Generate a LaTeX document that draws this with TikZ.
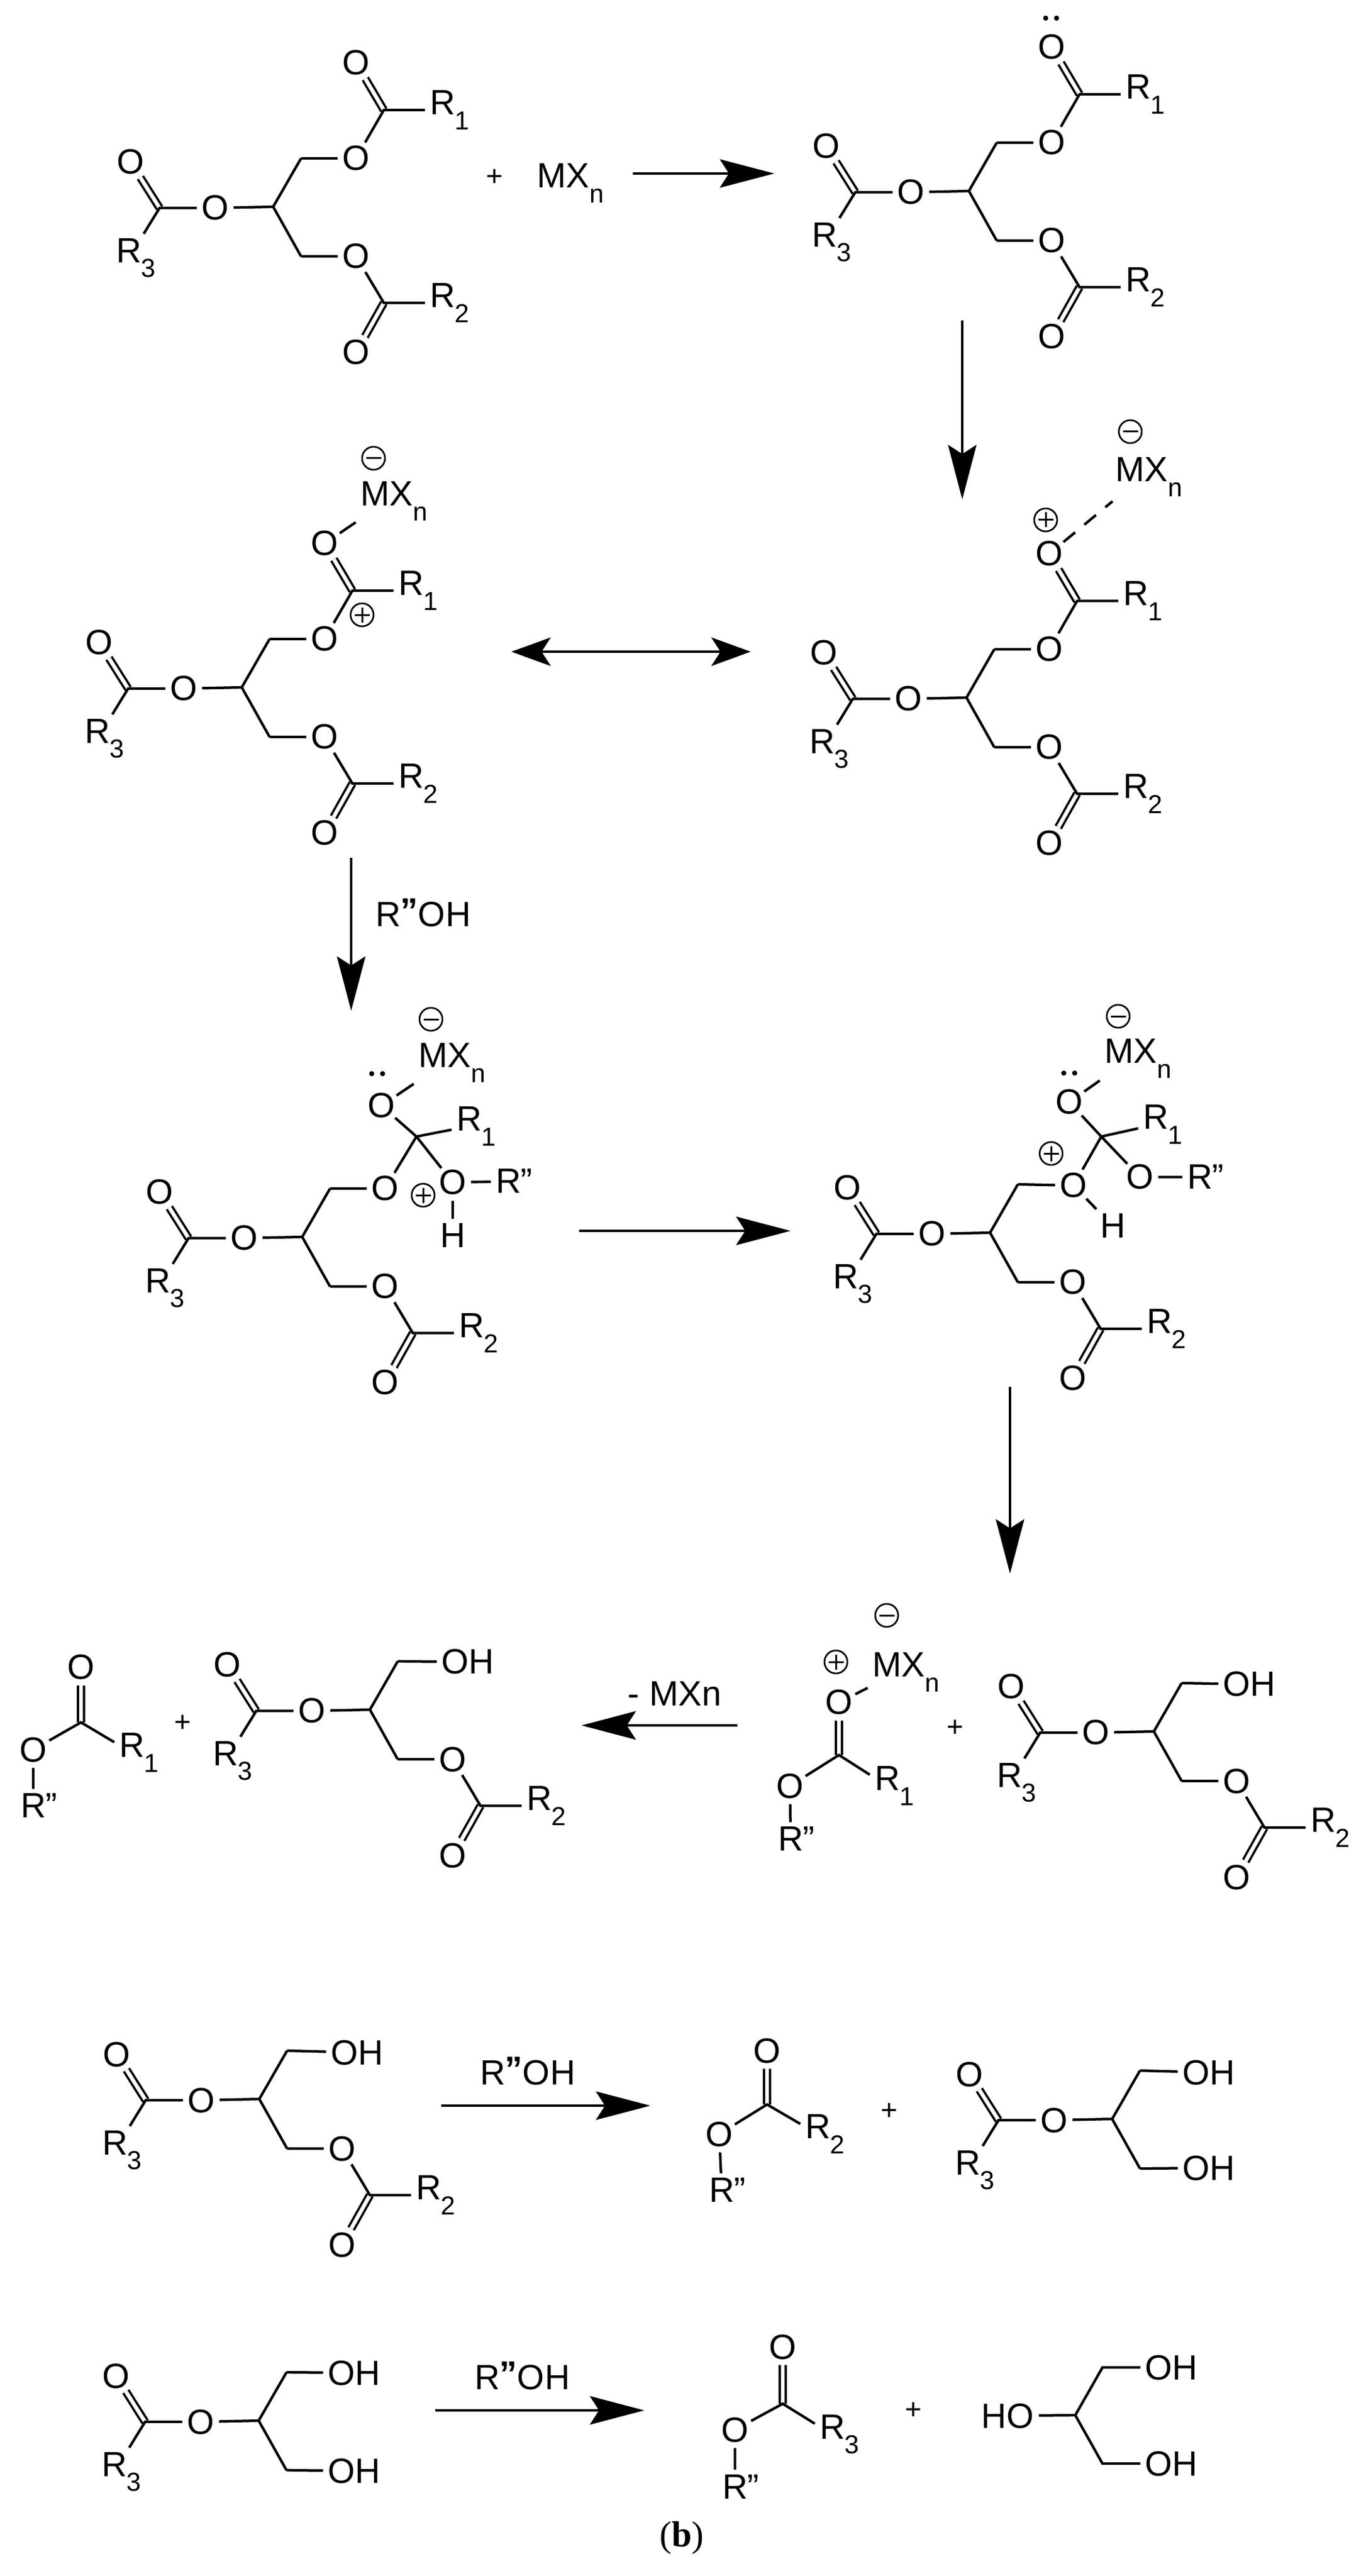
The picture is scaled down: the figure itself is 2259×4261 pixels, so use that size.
\documentclass[tikz,border=0pt]{standalone}
\usepackage{fontspec}
\setmainfont{Liberation Sans}
\newfontfamily\capserif{Liberation Serif}
\usetikzlibrary{arrows.meta}
\newcommand{\mainfs}{\fontsize{11.6}{13}\selectfont}
\newcommand{\subfs}{\fontsize{8.6}{10}\selectfont}
\newcommand{\Rs}[1]{R\rlap{\raisebox{-0.42em}{\subfs #1}}}
\newcommand{\Rpp}{R\rlap{"}}
\newcommand{\MXn}{MX\rlap{\raisebox{-0.42em}{\subfs n}}}
\newcommand{\ROH}{R\raisebox{.1em}{\textbf{"}}OH}
\tikzset{
 x=0.2pt,y=-0.2pt,
 bond/.style={line width=.85pt},
 dbl/.style={double,double distance=1.25pt,line width=.75pt},
 dsh/.style={line width=.85pt,dash pattern=on 5pt off 4pt},
 atom/.style={circle,inner sep=0pt,outer sep=0pt,font=\mainfs},
 lab/.style={rectangle,inner sep=1.6pt,outer sep=0pt,font=\mainfs},
 plain/.style={font=\mainfs,inner sep=0pt},
 plussign/.style={font=\fontsize{9.5}{11}\selectfont,inner sep=0pt},
 chg/.style={circle,draw,line width=.55pt,minimum size=7.6pt,inner sep=0pt},
 arr/.style={line width=.85pt,-{Stealth[length=18pt,width=9.4pt,inset=3pt]}},
 darr/.style={line width=.85pt,{Stealth[length=13pt,width=9.4pt,inset=3pt]}-{Stealth[length=13pt,width=9.4pt,inset=3pt]}},
}
% common core: centre carbon, secondary ester, two CH2
\newcommand{\core}[3]{\begin{scope}[shift={(#2,#3)}]
 \coordinate (#1c) at (0,0);
 \node[atom] (#1ol) at (-96,2) {O};
 \coordinate (#1cc) at (-188,2);
 \node[atom] (#1oup) at (-236,-74) {O};
 \node[lab] (#1r3) at (-239,85) {\Rs{3}};
 \coordinate (#1cu) at (46,-80);
 \coordinate (#1cl) at (46,82);
 \draw[dbl] (#1oup) -- (#1cc);
 \draw[bond] (#1r3) -- (#1cc) -- (#1ol) (#1ol) -- (#1c) (#1cu) -- (#1c) -- (#1cl);
\end{scope}}
\newcommand{\lowest}[3]{\begin{scope}[shift={(#2,#3)}]
 \node[atom] (#1o2) at (137,82) {O};
 \coordinate (#1c2) at (183,159);
 \node[lab] (#1r2) at (280,159) {\Rs{2}};
 \node[atom] (#1ob) at (137,241) {O};
 \draw[dbl] (#1ob) -- (#1c2);
 \draw[bond] (#1cl) -- (#1o2) -- (#1c2) -- (#1r2);
\end{scope}}
\newcommand{\uppest}[3]{\begin{scope}[shift={(#2,#3)}]
 \node[atom] (#1o1) at (137,-80) {O};
 \coordinate (#1c1) at (183,-160);
 \node[lab] (#1r1) at (280,-160) {\Rs{1}};
 \node[atom] (#1ot) at (137,-238) {O};
 \draw[dbl] (#1ot) -- (#1c1);
 \draw[bond] (#1cu) -- (#1o1) -- (#1c1) -- (#1r1);
\end{scope}}
\newcommand{\chgplus}[3]{\node[chg] (#1) at (#2,#3) {};
 \draw[line width=.6pt] ([xshift=-2.5pt]#1.center) -- ([xshift=2.5pt]#1.center) ([yshift=-2.5pt]#1.center) -- ([yshift=2.5pt]#1.center);}
\newcommand{\chgminus}[3]{\node[chg] (#1) at (#2,#3) {};
 \draw[line width=.6pt] ([xshift=-2.5pt]#1.center) -- ([xshift=2.5pt]#1.center);}
\newcommand{\lpair}[2]{\fill (#1-9,#2) circle (.85pt) (#1+9,#2) circle (.85pt);}
\begin{document}
\begin{tikzpicture}
\useasboundingbox (0,0) rectangle (2259,4261);
\fill[white] (0,0) rectangle (2259,4261);

% ---- row 1
\core{a}{452}{342}\lowest{a}{452}{342}\uppest{a}{452}{342}
\node[plussign] (plusA) at (818,294) {+};
\node[plain,anchor=center] (mxA) at (932,303) {\MXn};
\coordinate (a1s) at (1047,287); \coordinate (a1e) at (1281,287);
\draw[arr] (a1s) -- (a1e);
\core{b}{1603}{316}\lowest{b}{1603}{316}\uppest{b}{1603}{316}
\lpair{1739}{30}
\coordinate (a2s) at (1592,530); \coordinate (a2e) at (1592,826);
\draw[arr] (a2s) -- (a2e);

% ---- row 2
\core{c}{1599}{1154}\lowest{c}{1599}{1154}\uppest{c}{1599}{1154}
\node[lab] (cmx) at (1889,789) {\MXn};
\draw[dsh] (cot) -- (cmx);
\chgminus{cm}{1870}{714}
\chgplus{cp}{1730}{860}

\core{d}{400}{1137}\lowest{d}{400}{1137}\uppest{d}{400}{1137}
\node[lab] (dmx) at (640,829) {\MXn};
\draw[bond] (dot) -- (dmx);
\chgminus{dm}{618}{758}
\chgplus{dp}{599}{1017}
\coordinate (a3s) at (846,1078); \coordinate (a3e) at (1242,1078);
\draw[darr] (a3s) -- (a3e);

\coordinate (a4s) at (581,1419); \coordinate (a4e) at (581,1672);
\draw[arr] (a4s) -- (a4e);
\node[plain] (rohA) at (700,1510) {\ROH};

% ---- row 3
\core{e}{500}{2046}\lowest{e}{500}{2046}
\node[atom] (eo1) at (637,1966) {O};
\coordinate (ec1) at (689,1880);
\node[atom] (eot) at (631,1829) {O};
\node[lab] (er1) at (776,1863) {\Rs{1}};
\node[atom] (eoh) at (749,1956) {O};
\node[lab] (erp) at (841,1954) {\Rpp};
\node[lab] (eh) at (749,2044) {H};
\node[lab] (emx) at (736,1758) {\MXn};
\draw[bond] (ecu) -- (eo1) -- (ec1) -- (er1) (ec1) -- (eot) -- (emx) (ec1) -- (eoh) -- (erp) (eoh) -- (eh);
\lpair{624}{1776}
\chgminus{em}{713}{1686}
\chgplus{ep}{700}{1977}
\coordinate (a5s) at (958,2036); \coordinate (a5e) at (1308,2036);
\draw[arr] (a5s) -- (a5e);

\core{f}{1638}{2039}\lowest{f}{1638}{2039}
\node[atom] (fo1) at (1776,1961) {O};
\coordinate (fc1) at (1822,1880);
\node[atom] (fot) at (1769,1823) {O};
\node[lab] (fr1) at (1912,1860) {\Rs{1}};
\node[atom] (foh) at (1886,1947) {O};
\node[lab] (frp) at (1985,1947) {\Rpp};
\node[lab] (fh) at (1841,2028) {H};
\node[lab] (fmx) at (1871,1751) {\MXn};
\draw[bond] (fcu) -- (fo1) -- (fc1) -- (fr1) (fc1) -- (fot) -- (fmx) (fc1) -- (foh) -- (frp) (fo1) -- (fh);
\lpair{1769}{1775}
\chgminus{fm}{1850}{1681}
\chgplus{fp}{1739}{1908}
\coordinate (a6s) at (1671,2294); \coordinate (a6e) at (1671,2603);
\draw[arr] (a6s) -- (a6e);

% ---- row 4
\node[atom] (gou) at (134,2758) {O};
\coordinate (gc) at (134,2849);
\node[atom] (go) at (55,2894) {O};
\node[lab] (gr1) at (218,2899) {\Rs{1}};
\node[lab] (grp) at (55,2987) {\Rpp};
\draw[dbl] (gou) -- (gc);
\draw[bond] (grp) -- (go) -- (gc) -- (gr1);
\node[plussign] (plusG) at (302,2851) {+};

\core{h}{612}{2828}\lowest{h}{612}{2828}
\node[lab] (hoh) at (774,2749) {OH};
\draw[bond] (hcu) -- (hoh);

\coordinate (a7s) at (1220,2854); \coordinate (a7e) at (962,2854);
\draw[arr] (a7s) -- (a7e);
\node[plain] (mxnB) at (1116,2802) {- MXn};

\node[atom] (iou) at (1388,2816) {O};
\coordinate (ic) at (1388,2903);
\node[atom] (io) at (1307,2954) {O};
\node[lab] (ir1) at (1468,2954) {\Rs{1}};
\node[lab] (irp) at (1308,3042) {\Rpp};
\node[lab] (imx) at (1487,2766) {\MXn};
\draw[dbl] (iou) -- (ic);
\draw[bond] (irp) -- (io) -- (ic) -- (ir1) (iou) -- (imx);
\chgminus{im}{1467}{2672}
\chgplus{ip}{1383}{2749}
\node[plussign] (plusI) at (1580,2859) {+};

\core{j}{1909}{2864}\lowest{j}{1909}{2864}
\node[lab] (joh) at (2067,2786) {OH};
\draw[bond] (jcu) -- (joh);

% ---- row 5
\core{k}{429}{3472}\lowest{k}{429}{3472}
\node[lab] (koh) at (591,3395) {OH};
\draw[bond] (kcu) -- (koh);
\coordinate (a8s) at (730,3483); \coordinate (a8e) at (1076,3483);
\draw[arr] (a8s) -- (a8e);
\node[plain] (rohB) at (873,3426) {\ROH};

\node[atom] (lou) at (1269,3392) {O};
\coordinate (lc) at (1269,3481);
\node[atom] (lo) at (1190,3530) {O};
\node[lab] (lr2) at (1353,3530) {\Rs{2}};
\node[lab] (lrp) at (1194,3623) {\Rpp};
\draw[dbl] (lou) -- (lc);
\draw[bond] (lrp) -- (lo) -- (lc) -- (lr2);
\node[plussign] (plusL) at (1471,3493) {+};

\core{m}{1840}{3505}
\node[lab] (mohu) at (2000,3428) {OH};
\node[lab] (mohl) at (2000,3586) {OH};
\draw[bond] (mcu) -- (mohu) (mcl) -- (mohl);

% ---- row 6
\core{n}{428}{4004}
\node[lab] (nohu) at (586,3925) {OH};
\node[lab] (nohl) at (586,4087) {OH};
\draw[bond] (ncu) -- (nohu) (ncl) -- (nohl);
\coordinate (a9s) at (720,3987); \coordinate (a9e) at (1066,3987);
\draw[arr] (a9s) -- (a9e);
\node[plain] (rohC) at (864,3930) {\ROH};

\node[atom] (pou) at (1295,3882) {O};
\coordinate (pc) at (1295,3976);
\node[atom] (po) at (1216,4019) {O};
\node[lab] (pr3) at (1377,4027) {\Rs{3}};
\node[lab] (prp) at (1216,4113) {\Rpp};
\draw[dbl] (pou) -- (pc);
\draw[bond] (prp) -- (po) -- (pc) -- (pr3);
\node[plussign] (plusP) at (1511,3988) {+};

\coordinate (qc) at (1779,3995);
\coordinate (qcu) at (1824,3916);
\coordinate (qcl) at (1824,4075);
\node[lab] (qhou) at (1938,3916) {OH};
\node[lab] (qhol) at (1938,4075) {OH};
\node[lab] (qho) at (1667,3996) {HO};
\draw[bond] (qhou) -- (qcu) -- (qc) -- (qcl) -- (qhol) (qho) -- (qc);

\node[font=\capserif\fontsize{12}{14}\selectfont,inner sep=0pt] (cap) at (1128,4198) {(\textbf{b})};
\end{tikzpicture}
\end{document}
